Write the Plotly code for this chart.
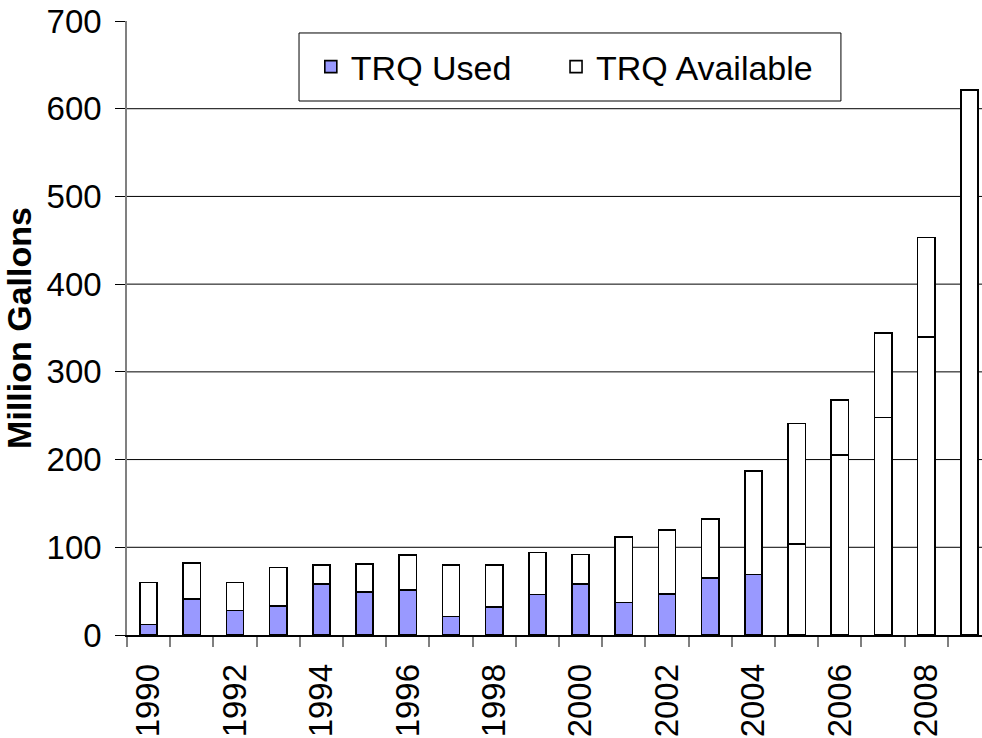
import plotly.graph_objects as go

years = list(range(1990, 2010))
trq_used = [12, 41, 28, 33, 58, 49, 51, 21, 32, 46, 58, 37, 47, 65, 69, 104, 205, 248, 340, 0]
trq_available = [60, 82, 60, 77, 80, 81, 91, 80, 80, 94, 92, 112, 120, 132, 187, 241, 268, 344, 453, 621]
label_years = [1990, 1992, 1994, 1996, 1998, 2000, 2002, 2004, 2006, 2008]
y_ticks = [0, 100, 200, 300, 400, 500, 600, 700]
grid_values = [100, 200, 300, 400, 500, 600]

used_colors = ["#9999FF" if y <= 2004 else "#FFFFFF" for y in years]
remainder = [a - u for a, u in zip(trq_available, trq_used)]

FONT = "Liberation Sans, Arial, sans-serif"

fig = go.Figure()
fig.add_trace(go.Bar(
    x=years, y=trq_used, name="TRQ Used", width=0.4, legend="legend",
    marker=dict(color=used_colors, line=dict(color="#000000", width=1.6)),
))
fig.add_trace(go.Bar(
    x=years, y=remainder, name="TRQ Available", width=0.4, legend="legend2",
    marker=dict(color="#FFFFFF", line=dict(color="#000000", width=1.6)),
))

for v in grid_values:
    fig.add_shape(type="line", xref="paper", x0=0, x1=1, yref="y", y0=v, y1=v,
                  line=dict(color="#000000", width=1), layer="below")

# legend frame
fig.add_shape(type="rect", xref="paper", yref="paper",
              x0=0.2012, x1=0.835, y0=0.8697, y1=0.9805,
              line=dict(color="#000000", width=1), fillcolor="white", layer="below")

legend_common = dict(
    orientation="h", yanchor="middle", y=0.925, xanchor="left",
    borderwidth=0, bgcolor="rgba(0,0,0,0)",
    font=dict(family=FONT, size=34), itemwidth=30,
)

fig.update_layout(
    barmode="stack",
    width=982, height=738,
    margin=dict(l=127, r=0, t=21, b=103),
    paper_bgcolor="white", plot_bgcolor="white",
    font=dict(family=FONT, size=33, color="#000000"),
    showlegend=True,
    legend=dict(x=0.215, **legend_common),
    legend2=dict(x=0.5018, **legend_common),
    xaxis=dict(
        range=[1989.5, 2009.29],
        tickmode="array", tickvals=label_years, ticktext=[str(y) for y in label_years],
        tickangle=-90, ticks="", showgrid=False,
        showline=True, linecolor="#000000", linewidth=1.5,
        ticklabelstandoff=14,
        minor=dict(ticks="outside", tick0=1989.5, dtick=1, ticklen=10,
                   tickcolor="#808080", tickwidth=1.5, showgrid=False),
        tickfont=dict(family=FONT, size=33),
    ),
    yaxis=dict(
        range=[0, 700], tickmode="array", tickvals=y_ticks,
        ticks="outside", ticklen=10, tickcolor="#000000", tickwidth=1,
        showgrid=False, zeroline=False,
        showline=True, linecolor="#808080", linewidth=1.5,
        ticklabelstandoff=7,
        tickfont=dict(family=FONT, size=33),
        title=dict(text="<b>Million Gallons</b>", font=dict(family=FONT, size=34), standoff=6),
    ),
)

fig.write_html("out.html", config={"displayModeBar": False},
               post_script="document.body.style.margin='0';document.body.style.overflow='hidden';")
